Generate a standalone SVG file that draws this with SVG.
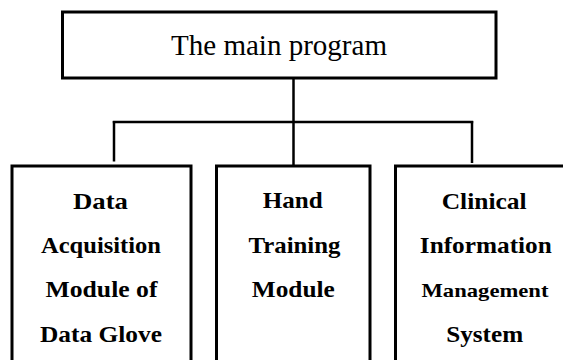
<svg xmlns="http://www.w3.org/2000/svg" width="563" height="360" viewBox="0 0 563 360">
  <style>
    .box { fill: #ffffff; stroke: #000000; stroke-width: 3; }
    .link { fill: none; stroke: #000000; stroke-width: 2.5; }
    .title { font-family: "Liberation Serif", "Times New Roman", serif; font-size: 30px; fill: #000000; text-anchor: middle; }
    .label { font-family: "Liberation Serif", "Times New Roman", serif; font-size: 23px; font-weight: bold; fill: #000000; text-anchor: middle; }
    .small { font-size: 19px; }
  </style>
  <rect width="563" height="360" fill="#ffffff"/>

  <!-- connectors -->
  <g id="connectors">
    <line class="link" x1="293.5" y1="78" x2="293.5" y2="166"/>
    <line class="link" x1="112.8" y1="122" x2="473.2" y2="122"/>
    <line class="link" x1="114" y1="121" x2="114" y2="161.5"/>
    <line class="link" x1="472" y1="121" x2="472" y2="163"/>
  </g>

  <!-- root node -->
  <g id="main-program">
    <rect class="box" x="62.5" y="12" width="433.5" height="66"/>
    <text class="title" x="279" y="55" textLength="216" lengthAdjust="spacingAndGlyphs">The main program</text>
  </g>

  <!-- child modules -->
  <g id="data-acquisition">
    <rect class="box" x="12" y="166" width="179" height="210"/>
    <text class="label" x="100.5" y="208.5" textLength="55" lengthAdjust="spacingAndGlyphs">Data</text>
    <text class="label" x="101" y="252.5" textLength="120" lengthAdjust="spacingAndGlyphs">Acquisition</text>
    <text class="label" x="101.5" y="296.5" textLength="112" lengthAdjust="spacingAndGlyphs">Module of</text>
    <text class="label" x="101" y="341.5" textLength="122" lengthAdjust="spacingAndGlyphs">Data Glove</text>
  </g>

  <g id="hand-training">
    <rect class="box" x="216.5" y="166" width="153.5" height="210"/>
    <text class="label" x="292.7" y="207.5" textLength="60" lengthAdjust="spacingAndGlyphs">Hand</text>
    <text class="label" x="294.5" y="252.5" textLength="92" lengthAdjust="spacingAndGlyphs">Training</text>
    <text class="label" x="293.3" y="296.5" textLength="83" lengthAdjust="spacingAndGlyphs">Module</text>
  </g>

  <g id="clinical-information">
    <rect class="box" x="395.5" y="166" width="180" height="210"/>
    <text class="label" x="484.2" y="208.5" textLength="85" lengthAdjust="spacingAndGlyphs">Clinical</text>
    <text class="label" x="485.8" y="252.5" textLength="132" lengthAdjust="spacingAndGlyphs">Information</text>
    <text class="label small" x="485" y="296.5" textLength="127" lengthAdjust="spacingAndGlyphs">Management</text>
    <text class="label" x="484.7" y="341.5" textLength="77" lengthAdjust="spacingAndGlyphs">System</text>
  </g>
</svg>
